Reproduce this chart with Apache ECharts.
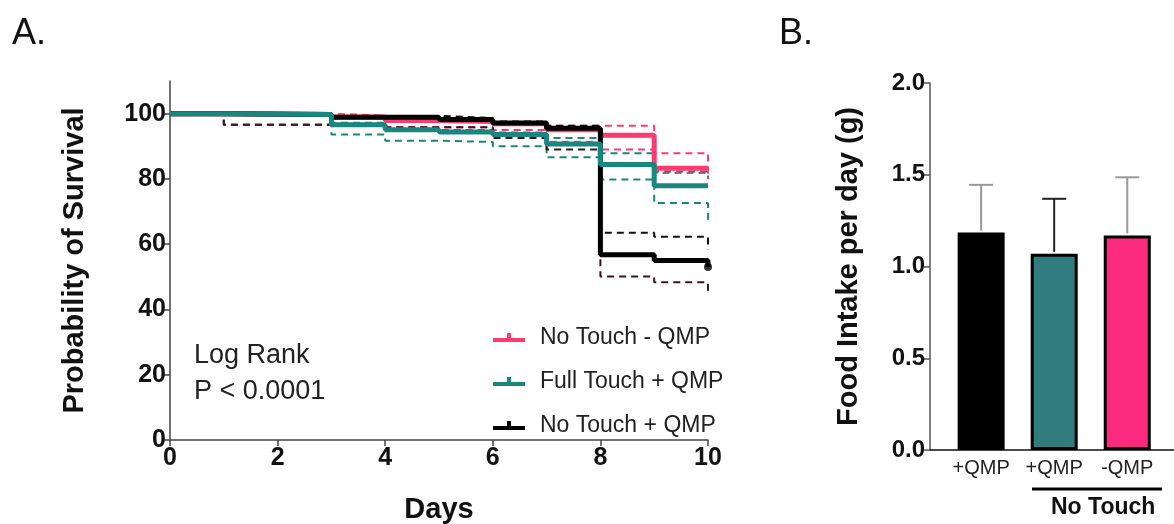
<!DOCTYPE html>
<html>
<head>
<meta charset="utf-8">
<title>Survival and food intake</title>
<script src="https://cdn.jsdelivr.net/npm/echarts@6/dist/echarts.min.js"></script>
<style>
  html, body { margin: 0; padding: 0; background: #fff; }
  #chart { width: 1174px; height: 524px; }
</style>
</head>
<body>
<div id="chart"></div>
<script>
// Panel A - Kaplan-Meier steps: value at index i holds from days[i] to days[i+1]
const days = [0, 1, 3, 4, 5, 6, 7, 8, 9, 10];

const noTouchMinus = [100, 99.7, 99.0, 97.9, 97.6, 96.9, 95.1, 93.4, 83.3, 83.3];
const noTouchMinusHi = [100, 100, 99.4, 98.4, 98.1, 97.4, 96.3, 96.3, 87.9, 81.0];
const noTouchMinusLo = [100, 96.6, 96.6, 95.8, 95.8, 95.0, 91.4, 89.0, 81.8, 80.0];

const fullTouch = [100, 99.7, 96.6, 95.1, 94.4, 93.6, 90.7, 84.4, 77.9, 77.9];
const fullTouchHi = [100, 100, 97.2, 95.7, 95.0, 94.2, 92.5, 87.9, 82.3, 80.5];
const fullTouchLo = [100, 96.6, 93.6, 91.7, 91.3, 90.0, 86.6, 79.8, 72.6, 67.5];

const noTouchPlus = [100, 99.7, 98.9, 98.9, 98.2, 97.1, 95.5, 56.8, 55.0, 53.0];
const noTouchPlusHi = [100, 100, 99.3, 99.3, 98.7, 97.6, 96.3, 63.5, 62.3, 58.3];
const noTouchPlusLo = [100, 96.6, 96.6, 95.8, 95.8, 92.5, 89.0, 50.1, 48.3, 44.5];

const survivalTicks = [0, 20, 40, 60, 80, 100];

// Panel B - food intake
const groups = ['+QMP', '+QMP', '-QMP'];
const intake = [1.185, 1.069, 1.169];
const intakeSd = [0.26, 0.30, 0.317];

const FONT = '"Liberation Sans", Arial, sans-serif';
const PINK = '#fb3a6f';
const TEAL = '#1a8680';
const BLACK = '#000';

function steps(values) {
  return days.map((d, i) => [d, values[i]]);
}

function solidLine(name, values, color, z) {
  return {
    name: name,
    type: 'line',
    step: 'end',
    xAxisIndex: 0,
    yAxisIndex: 0,
    data: steps(values),
    showSymbol: false,
    color: color,
    lineStyle: { color: color, width: 5 },
    z: z,
    silent: true
  };
}

function dashedLine(name, values, color) {
  return {
    name: name,
    type: 'line',
    step: 'end',
    xAxisIndex: 0,
    yAxisIndex: 0,
    data: steps(values),
    showSymbol: false,
    lineStyle: { color: color, width: 2, type: [7, 5] },
    z: 2,
    silent: true
  };
}

const chart = echarts.init(document.getElementById('chart'));

const legendIcon = 'path://M0,10H32V14H0Z M14,5H18V10H14Z';
const barColors = [BLACK, '#317c7c', '#fd2b7f'];
const errColors = ['#999', '#222', '#999'];

const option = {
  animation: false,
  textStyle: { fontFamily: FONT },
  legend: {
    orient: 'vertical',
    left: 488,
    top: 321,
    itemGap: 21,
    itemWidth: 32,
    itemHeight: 9,
    textStyle: { fontSize: 23, color: '#222', fontFamily: FONT, padding: [0, 0, 0, 10] },
    data: [
      { name: 'No Touch - QMP', icon: legendIcon },
      { name: 'Full Touch + QMP', icon: legendIcon },
      { name: 'No Touch + QMP', icon: legendIcon }
    ]
  },
  graphic: [
    { type: 'text', left: 12, top: 16, style: { text: 'A.', fontSize: 36, fill: '#111', fontFamily: FONT } },
    { type: 'text', left: 779, top: 16, style: { text: 'B.', fontSize: 36, fill: '#111', fontFamily: FONT } },
    { type: 'text', left: 194, top: 342, style: { text: 'Log Rank', fontSize: 27, fill: '#222', fontFamily: FONT } },
    { type: 'text', left: 194, top: 378, style: { text: 'P < 0.0001', fontSize: 27, fill: '#222', fontFamily: FONT } },
    { type: 'line', shape: { x1: 1032, y1: 489, x2: 1162, y2: 489 }, style: { stroke: '#000', lineWidth: 3 } },
    { type: 'text', left: 1051, top: 496, style: { text: 'No Touch', fontSize: 23, fontWeight: 'bold', fill: '#111', fontFamily: FONT } }
  ],
  grid: [
    { left: 170, top: 81, width: 538, height: 359, outerBoundsMode: 'none' },
    { left: 930, top: 83, width: 244, height: 367, outerBoundsMode: 'none' }
  ],
  xAxis: [
    {
      type: 'value',
      gridIndex: 0,
      min: 0,
      max: 10,
      interval: 2,
      name: 'Days',
      nameLocation: 'middle',
      nameGap: 55,
      nameTextStyle: { fontSize: 29, fontWeight: 'bold', color: '#111', fontFamily: FONT },
      axisLine: { lineStyle: { color: '#444', width: 1.5 } },
      axisTick: { show: true, length: 6, lineStyle: { color: '#444', width: 1.5 } },
      axisLabel: { fontSize: 25, fontWeight: 'bold', color: '#111', margin: 6, fontFamily: FONT },
      splitLine: { show: false }
    },
    {
      type: 'value',
      gridIndex: 1,
      min: 0.3,
      max: 3.64,
      axisLine: { onZero: false, lineStyle: { color: '#111', width: 1.5 } },
      axisTick: { show: false },
      axisLabel: {
        customValues: [1, 2, 3],
        formatter: v => groups[Math.round(v) - 1] || '',
        fontSize: 20,
        color: '#222',
        margin: 8,
        fontFamily: FONT
      },
      splitLine: { show: false }
    }
  ],
  yAxis: [
    {
      type: 'value',
      gridIndex: 0,
      min: 0,
      max: 110,
      name: 'Probability of Survival',
      nameLocation: 'middle',
      nameGap: 81,
      nameTextStyle: { fontSize: 29, fontWeight: 'bold', color: '#111', fontFamily: FONT },
      axisLine: { show: true, lineStyle: { color: '#444', width: 1.5 } },
      axisTick: { show: true, length: 6, customValues: survivalTicks, lineStyle: { color: '#444', width: 1.5 } },
      axisLabel: { customValues: survivalTicks, fontSize: 25, fontWeight: 'bold', color: '#111', margin: 4, fontFamily: FONT },
      splitLine: { show: false }
    },
    {
      type: 'value',
      gridIndex: 1,
      min: 0,
      max: 2,
      interval: 0.5,
      name: 'Food Intake per day (g)',
      nameLocation: 'middle',
      nameGap: 67,
      nameTextStyle: { fontSize: 29, fontWeight: 'bold', color: '#111', fontFamily: FONT },
      axisLine: { show: true, lineStyle: { color: '#555', width: 1.5 } },
      axisTick: { show: true, length: 6, lineStyle: { color: '#555', width: 1.5 } },
      axisLabel: { formatter: v => v.toFixed(1), fontSize: 24, fontWeight: 'bold', color: '#111', margin: 5, fontFamily: FONT },
      splitLine: { show: false }
    }
  ],
  series: [
    dashedLine('pink hi', noTouchMinusHi, PINK),
    dashedLine('pink lo', noTouchMinusLo, PINK),
    dashedLine('teal hi', fullTouchHi, TEAL),
    dashedLine('teal lo', fullTouchLo, TEAL),
    dashedLine('black hi', noTouchPlusHi, '#111'),
    dashedLine('black lo', noTouchPlusLo, '#3a1420'),
    solidLine('No Touch - QMP', noTouchMinus, PINK, 4),
    solidLine('No Touch + QMP', noTouchPlus, BLACK, 5),
    solidLine('Full Touch + QMP', fullTouch, TEAL, 6),
    {
      type: 'scatter',
      xAxisIndex: 0,
      yAxisIndex: 0,
      data: [[days[days.length - 1], noTouchPlus[noTouchPlus.length - 1]]],
      symbol: 'circle',
      symbolSize: 8,
      itemStyle: { color: BLACK },
      z: 7,
      silent: true
    },
    {
      type: 'bar',
      xAxisIndex: 1,
      yAxisIndex: 1,
      barWidth: 47,
      data: intake.map((v, i) => ({
        value: [i + 1, v],
        itemStyle: { color: barColors[i], borderColor: '#000', borderWidth: 3 }
      })),
      silent: true,
      z: 2
    },
    {
      type: 'custom',
      xAxisIndex: 1,
      yAxisIndex: 1,
      data: intake.map((v, i) => [i + 1, v, v + intakeSd[i]]),
      renderItem: function (params, api) {
        const base = api.coord([api.value(0), api.value(1)]);
        const top = api.coord([api.value(0), api.value(2)]);
        const stroke = errColors[params.dataIndex];
        return {
          type: 'group',
          children: [
            { type: 'line', shape: { x1: base[0], y1: base[1] - 2, x2: top[0], y2: top[1] }, style: { stroke: stroke, lineWidth: 2 } },
            { type: 'line', shape: { x1: top[0] - 12, y1: top[1], x2: top[0] + 12, y2: top[1] }, style: { stroke: stroke, lineWidth: 2 } }
          ]
        };
      },
      silent: true,
      z: 1
    }
  ]
};

chart.setOption(option);
</script>
</body>
</html>
